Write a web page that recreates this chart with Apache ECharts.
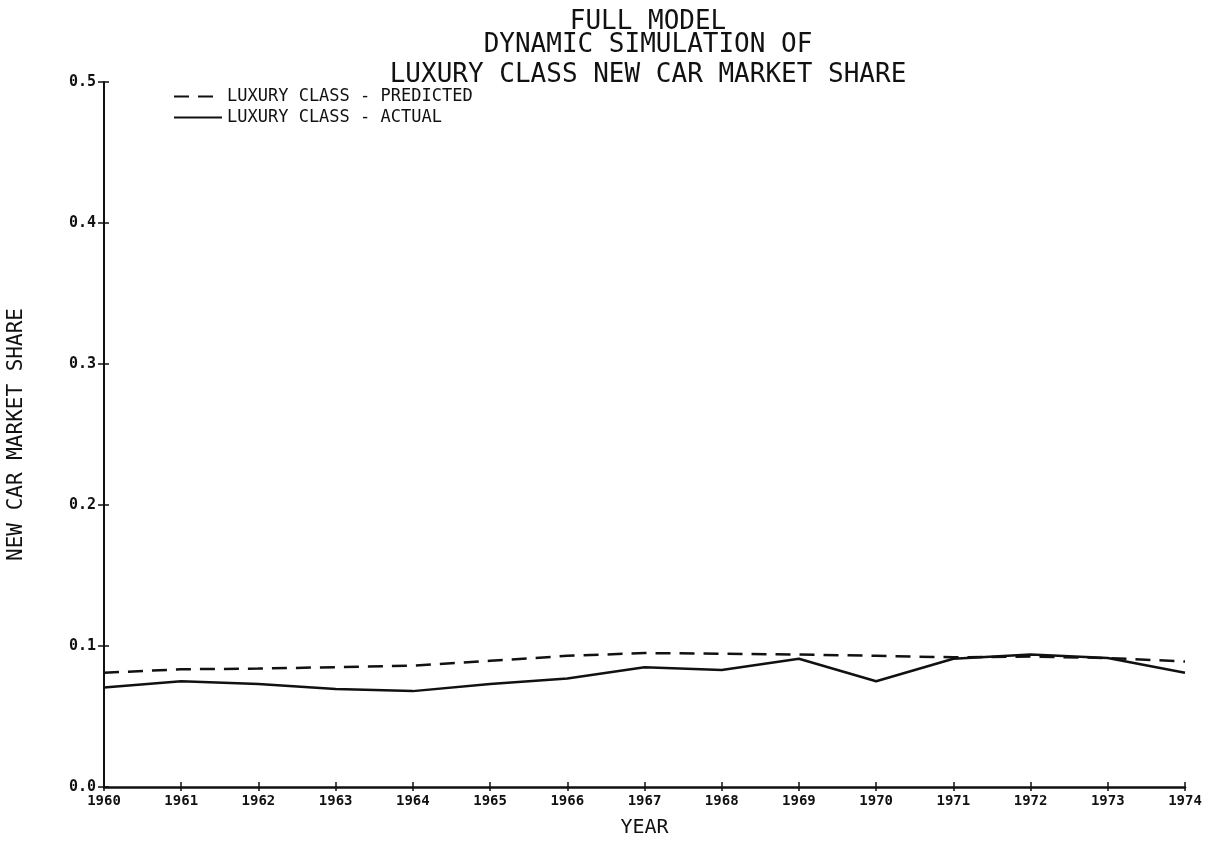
<!DOCTYPE html>
<html>
<head>
<meta charset="utf-8">
<script src="https://cdn.jsdelivr.net/npm/echarts@6/dist/echarts.min.js"></script>
<style>
html,body{margin:0;padding:0;background:#fff;}
#chart{width:1220px;height:845px;}
</style>
</head>
<body>
<div id="chart"></div>
<script>
var years = ['1960','1961','1962','1963','1964','1965','1966','1967','1968','1969','1970','1971','1972','1973','1974'];
var predicted = [0.081, 0.0835, 0.084, 0.085, 0.086, 0.0895, 0.093, 0.095, 0.0945, 0.094, 0.093, 0.092, 0.0925, 0.0915, 0.089];
var actual = [0.0705, 0.075, 0.073, 0.0695, 0.068, 0.073, 0.077, 0.085, 0.083, 0.091, 0.075, 0.091, 0.094, 0.0915, 0.081];
var titleLines = ['FULL MODEL', 'DYNAMIC SIMULATION OF', 'LUXURY CLASS NEW CAR MARKET SHARE'];
var seriesNames = ['LUXURY CLASS - PREDICTED', 'LUXURY CLASS - ACTUAL'];

var mono = '"DejaVu Sans Mono", "Liberation Mono", monospace';
var titleTops = [9, 32, 62];
var chart = echarts.init(document.getElementById('chart'), null, {renderer: 'canvas'});
chart.setOption({
  backgroundColor: '#ffffff',
  animation: false,
  title: titleLines.map(function (t, i) {
    return {
      text: t, left: 648, top: titleTops[i], padding: 0,
      textAlign: 'center',
      textStyle: {fontFamily: mono, fontSize: 26, fontWeight: 'normal', color: '#111'}
    };
  }),
  legend: {
    orient: 'vertical', left: 168, top: 83, itemGap: 4,
    itemWidth: 48, itemHeight: 13,
    data: seriesNames,
    itemStyle: {color: 'transparent', borderWidth: 0},
    textStyle: {fontFamily: mono, fontSize: 17, color: '#111', padding: [0,0,0,0]}
  },
  grid: {left: 104, right: 35, top: 82, bottom: 58, containLabel: false, outerBoundsMode: 'none'},
  xAxis: [{
    type: 'category', data: years, boundaryGap: false,
    name: 'YEAR', nameLocation: 'middle', nameGap: 31,
    nameTextStyle: {fontFamily: mono, fontSize: 20, color: '#111'},
    axisLine: {lineStyle: {color: '#111', width: 2.5}},
    axisTick: {length: 4, lineStyle: {color: '#111', width: 1.5}},
    axisLabel: {fontFamily: mono, fontSize: 14, fontWeight: 'bold', color: '#111', margin: 7, interval: 0},
    splitLine: {show: false}
  }, {
    type: 'category', data: years, boundaryGap: false, position: 'bottom',
    axisLine: {show: false},
    axisTick: {show: true, inside: true, length: 5, lineStyle: {color: '#111', width: 1.5}},
    axisLabel: {show: false},
    splitLine: {show: false}
  }],
  yAxis: [{
    type: 'value', min: 0, max: 0.5, interval: 0.1,
    name: 'NEW CAR MARKET SHARE', nameLocation: 'middle', nameGap: 77, nameRotate: 90,
    nameTextStyle: {fontFamily: mono, fontSize: 21, color: '#111'},
    axisLine: {show: true, lineStyle: {color: '#111', width: 2}},
    axisTick: {show: true, length: 6, lineStyle: {color: '#111', width: 1.5}},
    axisLabel: {fontFamily: mono, fontSize: 15, fontWeight: 'bold', color: '#111', margin: 8,
      formatter: function (v) { return v.toFixed(1); }},
    splitLine: {show: false}
  }, {
    type: 'value', min: 0, max: 0.5, interval: 0.1, position: 'left',
    axisLine: {show: false},
    axisTick: {show: true, inside: true, length: 5, lineStyle: {color: '#111', width: 1.5}},
    axisLabel: {show: false},
    splitLine: {show: false}
  }],
  series: [
    {
      name: seriesNames[0], type: 'line', data: predicted, symbol: 'none',
      lineStyle: {color: '#111', width: 2.5, type: [15, 9]},
      itemStyle: {color: '#111'}
    },
    {
      name: seriesNames[1], type: 'line', data: actual, symbol: 'none',
      lineStyle: {color: '#111', width: 2.5, type: 'solid'},
      itemStyle: {color: '#111'}
    }
  ]
});
</script>
</body>
</html>
